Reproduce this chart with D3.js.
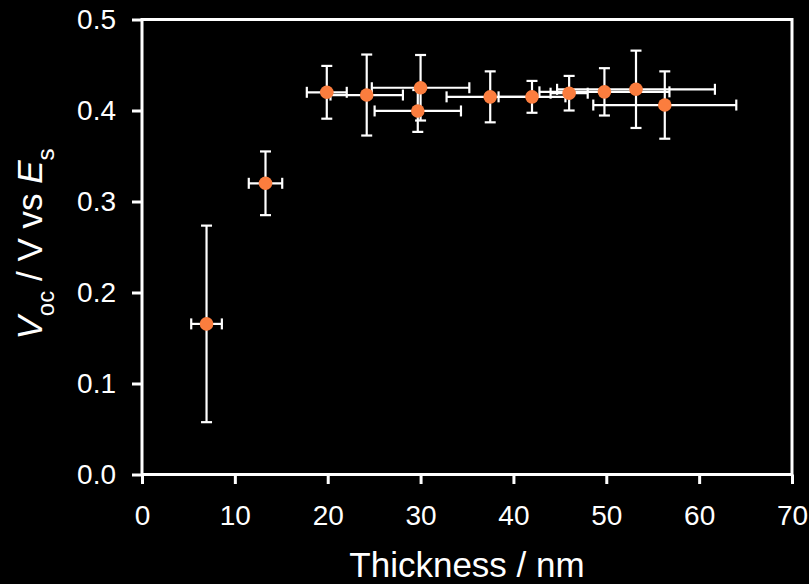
<!DOCTYPE html>
<html>
<head>
<meta charset="utf-8">
<script src="https://cdn.jsdelivr.net/npm/d3@7"></script>
<style>
  body { margin: 0; background: #000; }
  svg text { font-family: "Liberation Sans", Arial, sans-serif; fill: #fff; }
</style>
</head>
<body>
<div id="chart"></div>
<script>
// Film thickness (nm) and its spread
const thickness = [6.95, 13.3, 19.9, 24.2, 30.0, 29.7, 37.5, 42.0, 46.0, 49.8, 53.2, 56.3];
const thicknessErr = [1.65, 1.8, 2.15, 3.9, 5.25, 4.65, 4.7, 3.6, 2.0, 7.0, 8.5, 7.7];
// Open-circuit voltage (V vs Es) and its spread
const voc = [0.1655, 0.320, 0.420, 0.417, 0.425, 0.3995, 0.415, 0.415, 0.419, 0.4205, 0.4233, 0.406];
const vocErr = [0.108, 0.035, 0.029, 0.0445, 0.036, 0.023, 0.028, 0.0175, 0.019, 0.026, 0.0425, 0.037];

const xTicks = [0, 10, 20, 30, 40, 50, 60, 70];
const yTicks = [0, 0.1, 0.2, 0.3, 0.4, 0.5];

const width = 809, height = 584;
const margin = { top: 19.5, right: 17, bottom: 109.5, left: 142 };
const plotW = width - margin.left - margin.right;
const plotH = height - margin.top - margin.bottom;

const svg = d3.select("#chart").append("svg")
  .attr("width", width)
  .attr("height", height)
  .style("background", "#000");

const g = svg.append("g").attr("transform", `translate(${margin.left},${margin.top})`);

const x = d3.scaleLinear().domain([0, 70]).range([0, plotW]);
const y = d3.scaleLinear().domain([0, 0.5]).range([plotH, 0]);

// Axes
const xAxis = g.append("g")
  .attr("transform", `translate(0,${plotH})`)
  .call(d3.axisBottom(x).tickValues(xTicks).tickSize(9.5).tickSizeOuter(0).tickPadding(21));
const yAxis = g.append("g")
  .call(d3.axisLeft(y).tickValues(yTicks).tickFormat(d3.format(".1f")).tickSize(10).tickSizeOuter(0).tickPadding(16));

[xAxis, yAxis].forEach(a => {
  a.select(".domain").remove();
  a.selectAll(".tick line").attr("stroke", "#fff").attr("stroke-width", 3);
  a.selectAll(".tick text").style("font-size", "28px").attr("fill", "#fff");
});

// Frame
g.append("rect")
  .attr("width", plotW)
  .attr("height", plotH)
  .attr("fill", "none")
  .attr("stroke", "#fff")
  .attr("stroke-width", 3);

// Points
const pts = thickness.map((t, i) => ({ t, te: thicknessErr[i], v: voc[i], ve: vocErr[i] }));
const cap = 5.5;
const bars = g.append("g").attr("stroke", "#fff").attr("stroke-width", 2.2);

pts.forEach(d => {
  const cx = x(d.t), cy = y(d.v);
  const x0 = x(d.t - d.te), x1 = x(d.t + d.te);
  const y0 = y(d.v - d.ve), y1 = y(d.v + d.ve);
  // horizontal error bar
  bars.append("line").attr("x1", x0).attr("x2", x1).attr("y1", cy).attr("y2", cy);
  bars.append("line").attr("x1", x0).attr("x2", x0).attr("y1", cy - cap).attr("y2", cy + cap);
  bars.append("line").attr("x1", x1).attr("x2", x1).attr("y1", cy - cap).attr("y2", cy + cap);
  // vertical error bar
  bars.append("line").attr("x1", cx).attr("x2", cx).attr("y1", y0).attr("y2", y1);
  bars.append("line").attr("x1", cx - cap).attr("x2", cx + cap).attr("y1", y0).attr("y2", y0);
  bars.append("line").attr("x1", cx - cap).attr("x2", cx + cap).attr("y1", y1).attr("y2", y1);
});

g.append("g").selectAll("circle")
  .data(pts)
  .join("circle")
  .attr("cx", d => x(d.t))
  .attr("cy", d => y(d.v))
  .attr("r", 6.8)
  .attr("fill", "#fb7d3e");

// Axis titles
svg.append("text")
  .attr("x", margin.left + plotW / 2)
  .attr("y", 577)
  .attr("text-anchor", "middle")
  .style("font-size", "35px")
  .text("Thickness / nm");

const yl = svg.append("text")
  .attr("transform", "translate(41.5,244) rotate(-90)")
  .attr("text-anchor", "middle")
  .style("font-size", "35px");
yl.append("tspan").style("font-style", "italic").text("V");
yl.append("tspan").attr("dy", 12).style("font-size", "24px").text("oc");
yl.append("tspan").attr("dy", -12).text(" / V vs ");
yl.append("tspan").style("font-style", "italic").text("E");
yl.append("tspan").attr("dy", 12).style("font-size", "24px").text("s");
</script>
</body>
</html>
